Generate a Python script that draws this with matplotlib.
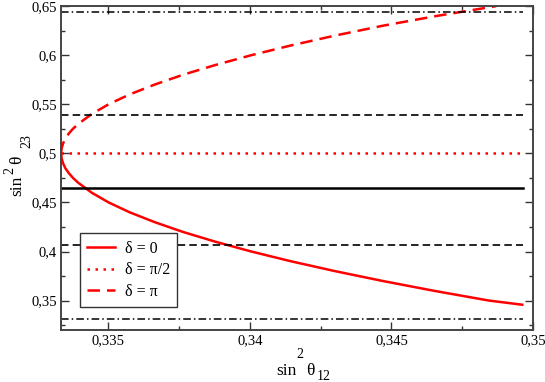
import matplotlib
matplotlib.use("Agg")
import matplotlib.pyplot as plt
from matplotlib.ticker import MultipleLocator, FuncFormatter

plt.rcParams['font.family'] = ['Liberation Serif', 'DejaVu Serif']

# delta = 0 branch (lower): (sin^2 theta12, sin^2 theta23)
x_d0 = [0.33333, 0.33335, 0.33340, 0.33348, 0.33360, 0.33375, 0.33394, 0.33441, 0.33501,
        0.33575, 0.33663, 0.33763, 0.33878, 0.34005, 0.34146, 0.34301, 0.34469, 0.34650,
        0.34845, 0.34962]
y_d0 = [0.500, 0.495, 0.490, 0.485, 0.480, 0.475, 0.470, 0.460, 0.450,
        0.440, 0.430, 0.420, 0.410, 0.400, 0.390, 0.380, 0.370, 0.360,
        0.350, 0.3458]
# delta = pi branch (upper)
x_dpi = [0.33333, 0.33335, 0.33340, 0.33348, 0.33360, 0.33375, 0.33394, 0.33441, 0.33501,
         0.33575, 0.33663, 0.33763, 0.33878, 0.34005, 0.34146, 0.34301, 0.34469, 0.34660,
         0.34870]
y_dpi = [0.500, 0.505, 0.510, 0.515, 0.520, 0.525, 0.530, 0.540, 0.550,
         0.560, 0.570, 0.580, 0.590, 0.600, 0.610, 0.620, 0.630, 0.640,
         0.650]
# delta = pi/2
x_dpi2 = [0.33333, 0.34966]
y_dpi2 = [0.500, 0.500]

# reference horizontal lines
x_span = [0.33333, 0.34966]
y_best = 0.4647
y_1sigma = [0.539, 0.407]
y_3sigma = [0.644, 0.331]

xticks = [0.335, 0.34, 0.345, 0.35]
yticks = [0.35, 0.4, 0.45, 0.5, 0.55, 0.6, 0.65]
legend_labels = ['δ = 0', 'δ = π/2', 'δ = π']

W, H = 545, 382
fig = plt.figure(figsize=(W / 100, H / 100), dpi=100)
ax = fig.add_axes([0.112, 0.136, 0.866, 0.848])

red = '#ff0000'
l0, = ax.plot(x_d0, y_d0, color=red, lw=1.8, label=legend_labels[0])
l1, = ax.plot(x_dpi2, y_dpi2, color=red, lw=1.8, linestyle=(0, (1, 2.2)), label=legend_labels[1])
l2, = ax.plot(x_dpi, y_dpi, color=red, lw=1.8, linestyle=(0, (5, 2.8)), label=legend_labels[2])

ax.plot(x_span, [y_best, y_best], color='black', lw=1.8)
for yy in y_1sigma:
    ax.plot(x_span, [yy, yy], color='black', lw=1.2, linestyle=(0, (4.5, 2.5)))
for yy in y_3sigma:
    ax.plot(x_span, [yy, yy], color='black', lw=1.1, linestyle=(0, (5, 2, 1, 2)))

ax.set_xlim(0.33333, 0.35)
ax.set_ylim(0.32, 0.65)
ax.set_xticks(xticks)
ax.set_yticks(yticks)
ax.xaxis.set_minor_locator(MultipleLocator(0.0025))
ax.yaxis.set_minor_locator(MultipleLocator(0.025))

def fmt(v, pos):
    s = ('%.3f' % v).rstrip('0').rstrip('.')
    return s.replace('.', ',')

ax.xaxis.set_major_formatter(FuncFormatter(fmt))
ax.yaxis.set_major_formatter(FuncFormatter(fmt))

ax.tick_params(which='both', direction='in', top=True, right=True, labelsize=10.5,
               colors='#333333', labelcolor='black')
ax.tick_params(which='major', length=6, width=1.0, pad=3)
ax.tick_params(which='minor', length=3, width=1.0)
for sp in ax.spines.values():
    sp.set_linewidth(1.4)
    sp.set_color('#444444')

# axis titles built from pieces (large script characters, as in the reference)
base_fs, script_fs = 12.5, 10

def ftext(px, py, s, fs, rot=0):
    fig.text(px / W, py / H, s, fontsize=fs, rotation=rot, rotation_mode='anchor',
             ha='left', va='baseline')

# x title: sin^2 theta_12   (pixel positions, origin bottom-left)
ftext(276, 7, 'sin', base_fs)
ftext(296.5, 24, '2', script_fs)
ftext(306.5, 7, 'θ', base_fs)
ftext(317, 1.5, '12', script_fs)

# y title: sin^2 theta_23 rotated
ftext(21.5, 186, 'sin', base_fs, 90)
ftext(13, 207.5, '2', script_fs, 90)
ftext(21.5, 218, 'θ', base_fs, 90)
ftext(30, 234, '23', script_fs, 90)

leg = ax.legend(handles=[l0, l1, l2], loc='lower left', bbox_to_anchor=(0.04, 0.071),
                fontsize=11.5, frameon=True, fancybox=False, framealpha=1.0,
                handlelength=1.75, borderpad=0.45, labelspacing=0.35,
                handletextpad=0.6, borderaxespad=0)
leg.get_frame().set_edgecolor('#333333')
leg.get_frame().set_linewidth(1.0)

fig.savefig('out.png', dpi=100)
